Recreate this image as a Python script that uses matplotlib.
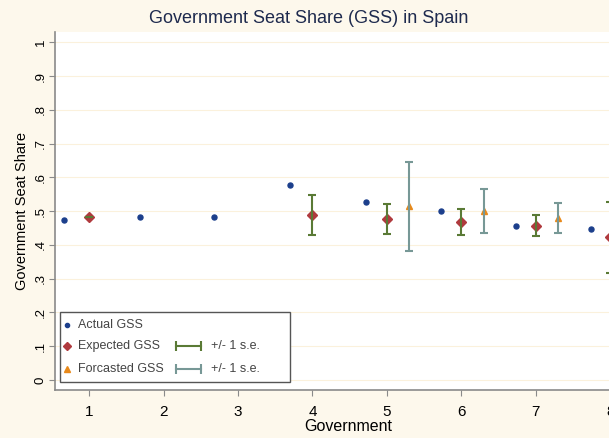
import matplotlib.pyplot as plt

plt.rcParams['font.family'] = ['Liberation Sans', 'DejaVu Sans']

# seat shares by government
actual_x = [0.66, 1.69, 2.68, 3.7, 4.72, 5.72, 6.73, 7.74]
actual_gss = [0.473, 0.482, 0.482, 0.577, 0.526, 0.501, 0.455, 0.446]

expected_x = [1, 4, 5, 6, 7, 8]
expected_gss = [0.482, 0.489, 0.476, 0.468, 0.457, 0.422]
expected_se = [0.0, 0.059, 0.045, 0.038, 0.031, 0.105]

forecast_x = [5.3, 6.3, 7.3]
forecast_gss = [0.514, 0.500, 0.479]
forecast_se = [0.132, 0.066, 0.044]

yticks = [0, 0.1, 0.2, 0.3, 0.4, 0.5, 0.6, 0.7, 0.8, 0.9, 1]
ytick_labels = ['0', '.1', '.2', '.3', '.4', '.5', '.6', '.7', '.8', '.9', '1']
xticks = [1, 2, 3, 4, 5, 6, 7, 8]

navy = '#1C3F8C'
maroon = '#B03A3E'
green = '#5A7A35'
orange = '#E8891A'
teal = '#779896'
bg = '#FDF8EC'

fig = plt.figure(figsize=(6.09, 4.38), dpi=100, facecolor=bg)
ax = fig.add_axes([0.0903, 0.1096, 0.962, 0.817])
ax.set_facecolor('white')

for y in yticks:
    ax.axhline(y, color='#FBF1DC', lw=0.8, zorder=0)

ax.plot(actual_x, actual_gss, 'o', color=navy, ms=3.6, zorder=3)
ax.plot(expected_x, expected_gss, 'D', color=maroon, ms=5, zorder=3)
ax.plot(forecast_x, forecast_gss, '^', color=orange, ms=5, zorder=3)
ax.errorbar(expected_x, expected_gss, yerr=expected_se, fmt='none',
            ecolor=green, elinewidth=1.5, capsize=3, capthick=1.5, zorder=4)
ax.errorbar(forecast_x, forecast_gss, yerr=forecast_se, fmt='none',
            ecolor=teal, elinewidth=1.5, capsize=3, capthick=1.5, zorder=4)

ax.set_xlim(0.542, 8.41)
ax.set_ylim(-0.030, 1.030)
ax.set_xticks(xticks)
ax.set_xticklabels([str(x) for x in xticks], fontsize=11)
ax.set_yticks(yticks)
ax.set_yticklabels(ytick_labels, fontsize=9.5, rotation=90, va='center')
ax.tick_params(axis='both', length=4, color='#8a8a8a')
ax.tick_params(axis='x', pad=7)
ax.tick_params(axis='y', pad=2)
for side in ['top', 'right']:
    ax.spines[side].set_visible(False)
for side in ['left', 'bottom']:
    ax.spines[side].set_color('#8a8a8a')
    ax.spines[side].set_linewidth(1.2)

ax.set_xlabel('Government', fontsize=11.5, labelpad=0)
ax.set_ylabel('Government Seat Share', fontsize=10.5, labelpad=4)
fig.text(0.507, 0.958, 'Government Seat Share (GSS) in Spain', ha='center',
         va='center', fontsize=13, color='#1E2A4E')

# legend box, drawn by hand so the error bar keys can be wider than the markers
box = plt.Rectangle((0.009, 0.022), 0.392, 0.197, transform=ax.transAxes,
                    facecolor='white', edgecolor='#555555', lw=1.0, zorder=5)
ax.add_patch(box)
rows = [0.183, 0.122, 0.058]
key_styles = [('o', navy, 3), ('D', maroon, 4.5), ('^', orange, 4.5)]
names = ['Actual GSS', 'Expected GSS', 'Forcasted GSS']
for yr, (m, c, s), name in zip(rows, key_styles, names):
    ax.plot([0.021], [yr], m, color=c, ms=s, transform=ax.transAxes,
            clip_on=False, zorder=6)
    ax.text(0.040, yr, name, transform=ax.transAxes, va='center', ha='left',
            fontsize=9, color='#444444', zorder=6)
for yr, c in zip(rows[1:], [green, teal]):
    ax.plot([0.206, 0.249], [yr, yr], color=c, lw=1.5, marker='|', ms=7,
            mew=1.5, transform=ax.transAxes, clip_on=False, zorder=6)
    ax.text(0.266, yr, '+/- 1 s.e.', transform=ax.transAxes, va='center',
            ha='left', fontsize=9, color='#444444', zorder=6)

fig.savefig('out.png', dpi=100, facecolor=bg)
